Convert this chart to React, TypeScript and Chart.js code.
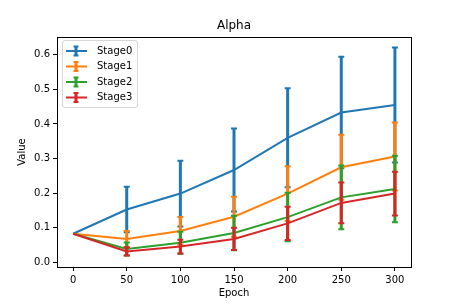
import React, { useEffect, useRef } from "react";
import { Chart, registerables } from "chart.js";

Chart.register(...registerables);

const epochs = [0, 50, 100, 150, 200, 250, 300];
const seriesNames = ["Stage0", "Stage1", "Stage2", "Stage3"];
const seriesColors = ["#1f77b4", "#ff7f0e", "#2ca02c", "#d62728"];

const stage0 = [0.083, 0.153, 0.199, 0.267, 0.36, 0.433, 0.455];
const stage0Err = [0, 0.066, 0.095, 0.12, 0.143, 0.161, 0.166];
const stage1 = [0.083, 0.068, 0.091, 0.132, 0.199, 0.275, 0.306];
const stage1Err = [0, 0.023, 0.04, 0.058, 0.079, 0.094, 0.098];
const stage2 = [0.083, 0.039, 0.057, 0.085, 0.131, 0.188, 0.212];
const stage2Err = [0, 0.019, 0.032, 0.05, 0.07, 0.092, 0.096];
const stage3 = [0.083, 0.032, 0.046, 0.068, 0.113, 0.172, 0.199];
const stage3Err = [0, 0.012, 0.02, 0.032, 0.048, 0.059, 0.063];

const seriesValues = [stage0, stage1, stage2, stage3];
const seriesErrors = [stage0Err, stage1Err, stage2Err, stage3Err];

const xTicks = [0, 50, 100, 150, 200, 250, 300];
const yTicks = [0, 0.1, 0.2, 0.3, 0.4, 0.5, 0.6];

const FONT = "'DejaVu Sans', sans-serif";

const errorBarPlugin = {
  id: "errorBars",
  afterDatasetDraw(chart: any, args: any) {
    const ds = chart.data.datasets[args.index];
    const errs: number[] = ds.errors;
    if (!errs) return;
    const xs = chart.scales.x;
    const ys = chart.scales.y;
    const ctx = chart.ctx;
    const area = chart.chartArea;
    ctx.save();
    ctx.beginPath();
    ctx.rect(area.left, area.top, area.right - area.left, area.bottom - area.top);
    ctx.clip();
    ctx.strokeStyle = ds.borderColor;
    ds.data.forEach((p: any, i: number) => {
      const e = errs[i];
      if (!e) return;
      const x = xs.getPixelForValue(p.x);
      const yt = ys.getPixelForValue(p.y + e);
      const yb = ys.getPixelForValue(p.y - e);
      ctx.lineWidth = 3;
      ctx.lineCap = "butt";
      ctx.beginPath();
      ctx.moveTo(x, yt);
      ctx.lineTo(x, yb);
      ctx.stroke();
      ctx.lineWidth = 2;
      ctx.beginPath();
      ctx.moveTo(x - 3, yt);
      ctx.lineTo(x + 3, yt);
      ctx.moveTo(x - 3, yb);
      ctx.lineTo(x + 3, yb);
      ctx.stroke();
    });
    ctx.restore();
  },
};

const framePlugin = {
  id: "frameAndLegend",
  afterDraw(chart: any) {
    const ctx = chart.ctx;
    const a = chart.chartArea;
    ctx.save();
    ctx.strokeStyle = "#000";
    ctx.lineWidth = 1;
    ctx.strokeRect(Math.round(a.left) + 0.5, Math.round(a.top) + 0.5, Math.round(a.right - a.left), Math.round(a.bottom - a.top));

    // legend
    const lx = a.left + 5.5;
    const ly = a.top + 3.5;
    const lw = 75;
    const lh = 67;
    const r = 2.5;
    ctx.beginPath();
    ctx.moveTo(lx + r, ly);
    ctx.lineTo(lx + lw - r, ly);
    ctx.arcTo(lx + lw, ly, lx + lw, ly + r, r);
    ctx.lineTo(lx + lw, ly + lh - r);
    ctx.arcTo(lx + lw, ly + lh, lx + lw - r, ly + lh, r);
    ctx.lineTo(lx + r, ly + lh);
    ctx.arcTo(lx, ly + lh, lx, ly + lh - r, r);
    ctx.lineTo(lx, ly + r);
    ctx.arcTo(lx, ly, lx + r, ly, r);
    ctx.closePath();
    ctx.fillStyle = "rgba(255,255,255,0.8)";
    ctx.fill();
    ctx.strokeStyle = "rgba(204,204,204,0.8)";
    ctx.stroke();

    ctx.font = "10px " + FONT;
    ctx.textBaseline = "middle";
    ctx.textAlign = "left";
    seriesNames.forEach((name, i) => {
      const cy = a.top + 14 + i * 15.5;
      const color = seriesColors[i];
      ctx.strokeStyle = color;
      ctx.lineWidth = 2;
      ctx.beginPath();
      ctx.moveTo(a.left + 9, cy);
      ctx.lineTo(a.left + 30, cy);
      ctx.stroke();
      const ex = a.left + 19;
      ctx.lineWidth = 3;
      ctx.beginPath();
      ctx.moveTo(ex, cy - 4.5);
      ctx.lineTo(ex, cy + 4.5);
      ctx.stroke();
      ctx.lineWidth = 2;
      ctx.beginPath();
      ctx.moveTo(ex - 2.5, cy - 4.5);
      ctx.lineTo(ex + 2.5, cy - 4.5);
      ctx.moveTo(ex - 2.5, cy + 4.5);
      ctx.lineTo(ex + 2.5, cy + 4.5);
      ctx.stroke();
      ctx.fillStyle = "#000";
      ctx.fillText(name, a.left + 40, cy);
    });
    ctx.restore();
  },
};

export default function App() {
  const ref = useRef<HTMLCanvasElement | null>(null);
  useEffect(() => {
    if (!ref.current) return;
    Chart.defaults.font.family = FONT;
    Chart.defaults.color = "#000";
    const datasets = seriesNames.map((name, i) => ({
      label: name,
      data: epochs.map((x, j) => ({ x, y: seriesValues[i][j] })),
      errors: seriesErrors[i],
      borderColor: seriesColors[i],
      backgroundColor: seriesColors[i],
      borderWidth: 2,
      pointRadius: 0,
      tension: 0,
      fill: false,
      order: seriesNames.length - 1 - i,
    }));
    const chart = new Chart(ref.current, {
      type: "line",
      data: { datasets } as any,
      plugins: [errorBarPlugin, framePlugin],
      options: {
        animation: false,
        responsive: false,
        devicePixelRatio: 1,
        layout: { padding: { left: 0, right: 46, top: 0, bottom: 0 } },
        plugins: {
          legend: { display: false },
          tooltip: { enabled: false },
          title: {
            display: true,
            text: "Alpha",
            fullSize: false,
            color: "#000",
            font: { size: 12, weight: "normal", family: FONT },
            padding: { top: 19, bottom: 3.6 },
          },
        },
        scales: {
          x: {
            type: "linear",
            min: -15,
            max: 315,
            afterBuildTicks: (s: any) => {
              s.ticks = xTicks.map((v) => ({ value: v }));
            },
            afterFit: (s: any) => {
              s.height = 38;
            },
            ticks: { color: "#000", font: { size: 10 }, padding: 3, maxRotation: 0, callback: (v: any) => String(v) },
            grid: { drawOnChartArea: false, drawTicks: true, tickLength: 4, color: "#000" },
            border: { display: true, color: "#000" },
            title: { display: true, text: "Epoch", color: "#000", font: { size: 10 }, padding: { top: 0, bottom: 6 } },
          },
          y: {
            type: "linear",
            min: -0.013,
            max: 0.651,
            afterBuildTicks: (s: any) => {
              s.ticks = yTicks.map((v) => ({ value: v }));
            },
            afterFit: (s: any) => {
              s.width = 57;
            },
            ticks: { color: "#000", font: { size: 10 }, padding: 3, callback: (v: any) => Number(v).toFixed(1) },
            grid: { drawOnChartArea: false, drawTicks: true, tickLength: 4, color: "#000" },
            border: { display: true, color: "#000" },
            title: { display: true, text: "Value", color: "#000", font: { size: 10 }, padding: { top: 16.5, bottom: 0 } },
          },
        },
      } as any,
    });
    return () => chart.destroy();
  }, []);
  return (
    <div style={{ position: "fixed", left: 0, top: 0, width: 457, height: 305, background: "#fff" }}>
      <canvas ref={ref} width={457} height={305} style={{ display: "block" }} />
    </div>
  );
}
